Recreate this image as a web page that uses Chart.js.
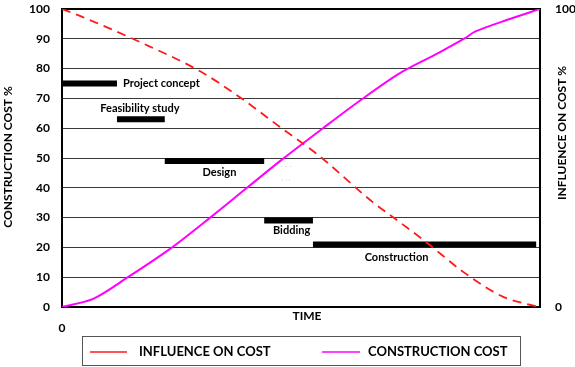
<!DOCTYPE html>
<html>
<head>
<meta charset="utf-8">
<script src="https://cdn.jsdelivr.net/npm/chart.js@4.4.0/dist/chart.umd.min.js"></script>
<style>
html, body { margin: 0; padding: 0; background: #fff; }
#wrap { width: 575px; height: 367px; }
</style>
</head>
<body>
<div id="wrap"><canvas id="chart" width="575" height="367"></canvas></div>
<script>
// time axis runs 0..100, both curves
var costTime = [0, 6.5, 13.8, 22.6, 31, 38.7, 46.2, 54.6, 62.8, 70.7, 78.7, 84.3, 86.4, 93, 100];
var costValues = [0, 2.7, 10, 19.5, 30, 40, 49.7, 60, 69.8, 78.5, 85.2, 90.2, 92.4, 96.3, 100];

var influenceTime = [0, 4, 15.5, 29, 37.2, 45.6, 53.6, 65, 69.2, 76.4, 84, 92.3, 97.3, 100];
var influenceValues = [100, 97.5, 89.5, 79, 70.4, 60.4, 51, 35.2, 30.2, 21.5, 11.7, 3.4, 1, 0];

// project phases (gantt bars)
var phases = ['Project concept', 'Feasibility study', 'Design', 'Bidding', 'Construction'];
var phaseStart = [0, 11.5, 21.5, 42.3, 52.5];
var phaseEnd = [11.5, 21.5, 42.3, 52.5, 99.2];
var phaseLevel = [75, 63, 49, 29, 21];

var leftTicks = [0, 10, 20, 30, 40, 50, 60, 70, 80, 90, 100];
var rightTicks = [0, 100];

var FONT = 'Lato, "DejaVu Sans", sans-serif';

function toPoints(xs, ys) {
    var pts = [];
    for (var i = 0; i < xs.length; i++) {
        pts.push({x: xs[i], y: ys[i]});
    }
    return pts;
}

var datasets = [
    {
        label: 'INFLUENCE ON COST',
        data: toPoints(influenceTime, influenceValues),
        yAxisID: 'yRight',
        borderColor: '#ff1a1a',
        borderWidth: 1.8,
        borderDash: [9, 6],
        pointRadius: 0,
        cubicInterpolationMode: 'monotone'
    },
    {
        label: 'CONSTRUCTION COST',
        data: toPoints(costTime, costValues),
        yAxisID: 'y',
        borderColor: '#ff00ff',
        borderWidth: 2,
        pointRadius: 0,
        tension: 0.3
    }
];

for (var p = 0; p < phases.length; p++) {
    datasets.push({
        label: phases[p],
        data: [{x: phaseStart[p], y: phaseLevel[p]}, {x: phaseEnd[p], y: phaseLevel[p]}],
        yAxisID: 'y',
        borderColor: '#000',
        borderWidth: 6,
        borderCapStyle: 'butt',
        pointRadius: 0
    });
}

// pixel nudges for phase labels, relative to the bar
var labelPlace = [
    {align: 'left', dx: 6, dy: 0, from: 'end'},
    {align: 'center', dx: -1, dy: -11, from: 'mid'},
    {align: 'center', dx: 5, dy: 11, from: 'mid'},
    {align: 'center', dx: 3, dy: 10, from: 'mid'},
    {align: 'center', dx: -28, dy: 13, from: 'mid'}
];

var textPlugin = {
    id: 'texts',
    afterDraw: function(chart) {
        var ctx = chart.ctx;
        var xs = chart.scales.x;
        var ys = chart.scales.y;
        ctx.save();
        ctx.fillStyle = '#000';
        ctx.textBaseline = 'middle';

        // phase labels
        ctx.font = 'bold 11px ' + FONT;
        for (var i = 0; i < phases.length; i++) {
            var pl = labelPlace[i];
            var bx = pl.from == 'end' ? xs.getPixelForValue(phaseEnd[i])
                : (xs.getPixelForValue(phaseStart[i]) + xs.getPixelForValue(phaseEnd[i])) / 2;
            var by = ys.getPixelForValue(phaseLevel[i]);
            ctx.textAlign = pl.align;
            ctx.fillText(phases[i], bx + pl.dx, by + pl.dy);
        }

        // faint ghost text next to design label
        ctx.fillStyle = '#c8c8c8';
        ctx.font = '7px ' + FONT;
        ctx.textAlign = 'center';
        ctx.fillText('\u02d9 \u02d9 \u02d9', 286, 170);
        ctx.fillText('\u02cc \u02cc \u02cc', 286, 177);
        ctx.fillStyle = '#000';

        // axis titles
        ctx.font = 'bold 12px ' + FONT;
        ctx.save();
        ctx.translate(8, 157);
        ctx.rotate(-Math.PI / 2);
        ctx.textAlign = 'center';
        ctx.fillText('CONSTRUCTION COST %', 0, 0);
        ctx.restore();

        ctx.save();
        ctx.translate(562, 133);
        ctx.rotate(-Math.PI / 2);
        ctx.textAlign = 'center';
        ctx.fillText('INFLUENCE ON COST %', 0, 0);
        ctx.restore();

        ctx.textAlign = 'center';
        ctx.fillText('TIME', 307, 316);
        ctx.fillText('0', xs.getPixelForValue(0), 328);

        // legend box
        ctx.strokeStyle = '#555';
        ctx.lineWidth = 1;
        ctx.strokeRect(82.5, 336.5, 438, 29);
        var items = [
            {color: '#ff1a1a', x0: 90, x1: 127, tx: 139, text: datasets[0].label},
            {color: '#ff00ff', x0: 322, x1: 360, tx: 368, text: datasets[1].label}
        ];
        ctx.font = 'bold 13px ' + FONT;
        ctx.textAlign = 'left';
        items.forEach(function(it) {
            ctx.strokeStyle = it.color;
            ctx.lineWidth = 1.5;
            ctx.beginPath();
            ctx.moveTo(it.x0, 352);
            ctx.lineTo(it.x1, 352);
            ctx.stroke();
            ctx.fillText(it.text, it.tx, 352);
        });
        ctx.restore();
    }
};

function fixSide(w) {
    return function(scale) {
        scale.width = w;
        scale.paddingTop = 0;
        scale.paddingBottom = 0;
    };
}

var ctx = document.getElementById('chart').getContext('2d');
var chart = new Chart(ctx, {
    type: 'line',
    data: {datasets: datasets},
    options: {
        responsive: false,
        animation: false,
        devicePixelRatio: 1,
        layout: {padding: {top: 9, left: 0, right: 0, bottom: 0}},
        plugins: {
            legend: {display: false},
            tooltip: {enabled: false}
        },
        scales: {
            x: {
                type: 'linear',
                min: 0,
                max: 100,
                ticks: {display: false},
                grid: {display: false},
                border: {color: '#000', width: 2},
                afterFit: function(scale) {
                    scale.height = 60;
                    scale.paddingLeft = 0;
                    scale.paddingRight = 0;
                }
            },
            y: {
                position: 'left',
                min: 0,
                max: 100,
                afterBuildTicks: function(scale) {
                    scale.ticks = leftTicks.map(function(v) { return {value: v}; });
                },
                ticks: {
                    color: '#000',
                    padding: 12,
                    font: {family: FONT, size: 12, weight: 'bold'}
                },
                grid: {
                    drawTicks: false,
                    color: function(c) { return c.tick && c.tick.value == 100 ? '#000' : '#3a3a3a'; },
                    lineWidth: function(c) { return c.tick && c.tick.value == 100 ? 2 : 1; }
                },
                border: {color: '#000', width: 2},
                afterFit: fixSide(62)
            },
            yRight: {
                position: 'right',
                min: 0,
                max: 100,
                afterBuildTicks: function(scale) {
                    scale.ticks = rightTicks.map(function(v) { return {value: v}; });
                },
                ticks: {
                    color: '#000',
                    padding: 15,
                    font: {family: FONT, size: 12, weight: 'bold'}
                },
                grid: {display: false, drawTicks: false},
                border: {color: '#000', width: 2},
                afterFit: fixSide(35)
            }
        }
    },
    plugins: [textPlugin]
});
</script>
</body>
</html>
